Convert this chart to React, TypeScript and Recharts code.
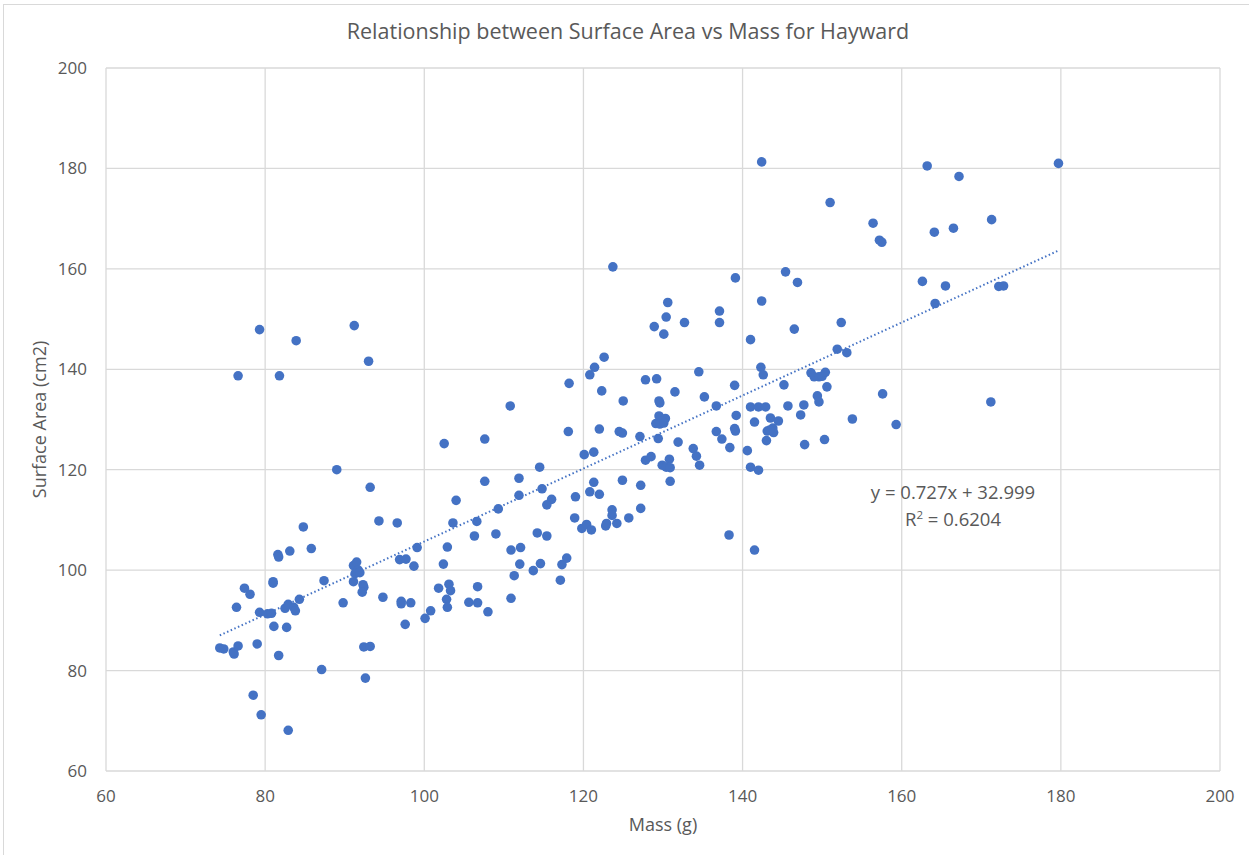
import React from 'react';
import {
  ScatterChart,
  Scatter,
  XAxis,
  YAxis,
  ZAxis,
  CartesianGrid,
  ReferenceLine,
} from 'recharts';

const mass = [
  84.8, 81.6, 81.7, 83.1, 85.8, 109.0, 106.3, 102.9, 99.1, 102.4, 96.9, 97.7, 98.7, 91.1, 91.5, 91.7, 91.3, 91.9,
  91.1, 92.3, 92.4, 92.2, 87.4, 81.0, 81.0, 77.4, 78.1, 76.4, 79.3, 80.3, 80.8, 82.5, 82.9, 83.6, 83.8, 84.3,
  89.8, 94.8, 97.1, 97.1, 98.3, 101.8, 103.1, 103.3, 102.8, 102.9, 100.8, 100.1, 97.6, 105.6, 106.7, 108.0, 106.7,
  81.1, 82.7, 74.3, 74.8, 76.1, 76.0, 76.6, 79.0, 81.7, 87.1, 92.4, 93.2, 92.6, 78.5, 79.5, 82.9,
  79.3, 76.6, 81.8, 83.9, 91.2, 93.0, 89.0, 93.2, 102.5, 107.6, 107.6, 104.0, 94.3, 96.6, 103.6, 106.6, 109.3,
  123.7, 139.1, 130.6, 142.4, 137.1, 130.4, 132.7, 137.1, 128.9, 130.1, 141.0, 122.6, 121.4, 120.8, 134.5, 142.3,
  142.6, 127.8, 129.2, 118.2, 139.0, 131.5, 122.3, 135.2, 125.0, 129.5, 129.6, 110.8, 136.7, 141.0, 142.0, 142.9,
  139.2, 143.5, 144.5, 129.5, 130.3, 129.9, 129.1, 129.6, 130.1, 141.5, 143.8, 143.1, 143.9, 143.4, 136.7, 139.0,
  139.1, 143.0, 137.4, 138.4, 122.0, 124.5, 124.9, 118.1, 127.1, 129.4, 131.9, 133.8, 134.2, 134.6, 140.6, 141.0,
  142.0, 120.1, 121.3, 127.8, 128.5, 130.8, 129.9, 130.4, 130.9, 130.9, 114.5, 111.9, 114.8, 111.9, 121.3, 120.8,
  122.0, 124.9, 127.2, 116.0, 119.0,
  115.4, 118.9, 119.8, 120.4, 121.0, 123.6, 123.6, 122.8, 122.9, 124.2, 125.7, 127.2, 114.2, 115.4, 110.9, 112.1,
  112.0, 113.7, 114.6, 117.3, 117.9, 111.3, 117.1, 110.9, 138.3, 141.5,
  142.4, 163.2, 167.2, 179.7, 151.0, 156.4, 157.2, 157.5, 164.1, 166.5, 171.3, 145.4, 146.9, 162.6, 165.5, 172.2,
  172.8, 164.2, 146.5, 152.4, 151.9, 153.1, 148.6, 149.0, 149.6, 150.0, 150.4, 145.2, 150.6, 149.4, 157.6, 171.2,
  149.6, 145.7, 147.7, 147.3, 153.8, 159.3, 147.8, 150.3,
];

const surfaceArea = [
  108.6, 103.1, 102.6, 103.8, 104.3, 107.2, 106.8, 104.6, 104.5, 101.2, 102.1, 102.2, 100.8, 100.9, 101.6, 100.0, 99.3, 99.5,
  97.7, 97.1, 96.6, 95.6, 97.9, 97.7, 97.4, 96.4, 95.2, 92.6, 91.6, 91.3, 91.4, 92.4, 93.2, 92.6, 91.9, 94.2,
  93.5, 94.6, 93.8, 93.3, 93.5, 96.4, 97.2, 95.9, 94.2, 92.6, 91.9, 90.4, 89.2, 93.6, 93.5, 91.7, 96.7,
  88.8, 88.6, 84.5, 84.3, 83.3, 83.7, 84.9, 85.3, 83.0, 80.2, 84.7, 84.8, 78.5, 75.1, 71.2, 68.1,
  147.9, 138.7, 138.7, 145.7, 148.7, 141.6, 120.0, 116.5, 125.2, 126.1, 117.7, 113.9, 109.8, 109.4, 109.4, 109.7, 112.2,
  160.4, 158.2, 153.3, 153.6, 151.6, 150.4, 149.3, 149.3, 148.5, 147.0, 145.9, 142.4, 140.4, 138.9, 139.5, 140.4,
  138.9, 137.9, 138.1, 137.2, 136.8, 135.5, 135.7, 134.5, 133.7, 133.7, 133.3, 132.7, 132.7, 132.5, 132.5, 132.5,
  130.8, 130.3, 129.7, 130.7, 130.2, 129.6, 129.2, 129.1, 129.3, 129.5, 128.3, 127.7, 127.4, 127.9, 127.6, 128.2,
  127.7, 125.8, 126.1, 124.4, 128.1, 127.6, 127.3, 127.6, 126.6, 126.2, 125.5, 124.2, 122.7, 120.9, 123.8, 120.5,
  119.9, 123.0, 123.5, 121.9, 122.6, 122.1, 120.9, 120.5, 120.4, 117.7, 120.5, 118.3, 116.2, 114.9, 117.5, 115.6,
  115.1, 117.9, 116.9, 114.1, 114.6,
  113.0, 110.4, 108.3, 109.1, 108.0, 112.0, 110.9, 108.8, 109.3, 109.3, 110.4, 112.3, 107.4, 106.8, 104.0, 104.5,
  101.2, 99.9, 101.3, 101.1, 102.4, 98.9, 98.0, 94.4, 107.0, 104.0,
  181.3, 180.5, 178.4, 181.0, 173.2, 169.1, 165.7, 165.3, 167.3, 168.1, 169.8, 159.4, 157.3, 157.5, 156.6, 156.5,
  156.6, 153.1, 148.0, 149.3, 144.0, 143.3, 139.3, 138.5, 138.5, 138.6, 139.4, 136.9, 136.5, 134.7, 135.1, 133.5,
  133.5, 132.7, 132.9, 130.9, 130.1, 129.0, 125.0, 126.0,
];

const xTicks = [60, 80, 100, 120, 140, 160, 180, 200];
const yTicks = [60, 80, 100, 120, 140, 160, 180, 200];

const slope = 0.727;
const intercept = 32.999;

const points = mass.map((m, i) => ({ mass: m, area: surfaceArea[i] }));
const minMass = Math.min(...mass);
const maxMass = Math.max(...mass);

const textColor = '#595959';
const gridColor = '#d9d9d9';
const font = '"Open Sans", sans-serif';

export default function App() {
  return (
    <div
      style={{
        position: 'absolute',
        left: 0,
        top: 0,
        width: 1249,
        height: 855,
        background: '#fff',
        fontFamily: font,
      }}
    >
      <div
        style={{
          position: 'absolute',
          left: 3,
          top: 4,
          width: 1250,
          height: 860,
          border: `1px solid ${gridColor}`,
        }}
      />
      <div
        style={{
          position: 'absolute',
          left: 0,
          width: 1256,
          top: 16,
          textAlign: 'center',
          fontSize: 21.5,
          color: textColor,
        }}
      >
        Relationship between Surface Area vs Mass for Hayward
      </div>

      <div style={{ position: 'absolute', left: 0, top: 0 }}>
        <ScatterChart width={1249} height={855} margin={{ top: 68, right: 29, bottom: 22, left: 36 }}>
          <CartesianGrid stroke={gridColor} strokeWidth={1.3} horizontalValues={yTicks} verticalValues={xTicks} />
          <XAxis
            type="number"
            dataKey="mass"
            domain={[60, 200]}
            ticks={xTicks}
            axisLine={false}
            tickLine={false}
            tickSize={0}
            tickMargin={19}
            height={62}
            tick={{ fill: textColor, fontSize: 17, fontFamily: font }}
            label={{
              value: 'Mass (g)',
              position: 'insideBottom',
              offset: 2,
              fill: textColor,
              fontSize: 18,
              fontFamily: font,
            }}
          />
          <YAxis
            type="number"
            dataKey="area"
            domain={[60, 200]}
            ticks={yTicks}
            axisLine={false}
            tickLine={false}
            tickSize={0}
            tickMargin={19}
            width={70}
            tick={{ fill: textColor, fontSize: 17, fontFamily: font }}
            label={{
              value: 'Surface Area (cm2)',
              angle: -90,
              position: 'insideLeft',
              offset: 4,
              style: { textAnchor: 'middle' },
              fill: textColor,
              fontSize: 18,
              fontFamily: font,
            }}
          />
          <ZAxis range={[72, 72]} />
          <Scatter data={points} fill="#4472C4" isAnimationActive={false} />
          <ReferenceLine
            segment={[
              { x: minMass, y: slope * minMass + intercept },
              { x: maxMass, y: slope * maxMass + intercept },
            ]}
            stroke="#4472C4"
            strokeWidth={2}
            strokeDasharray="1.5 2.5"
            ifOverflow="extendDomain"
          />
        </ScatterChart>
      </div>

      <div
        style={{
          position: 'absolute',
          left: 848,
          width: 210,
          top: 478,
          textAlign: 'center',
          fontSize: 18.5,
          lineHeight: '27px',
          color: textColor,
        }}
      >
        <div>y = 0.727x + 32.999</div>
        <div>
          R<sup style={{ fontSize: 11.5, verticalAlign: 'top', lineHeight: '20px' }}>2</sup> = 0.6204
        </div>
      </div>
    </div>
  );
}
